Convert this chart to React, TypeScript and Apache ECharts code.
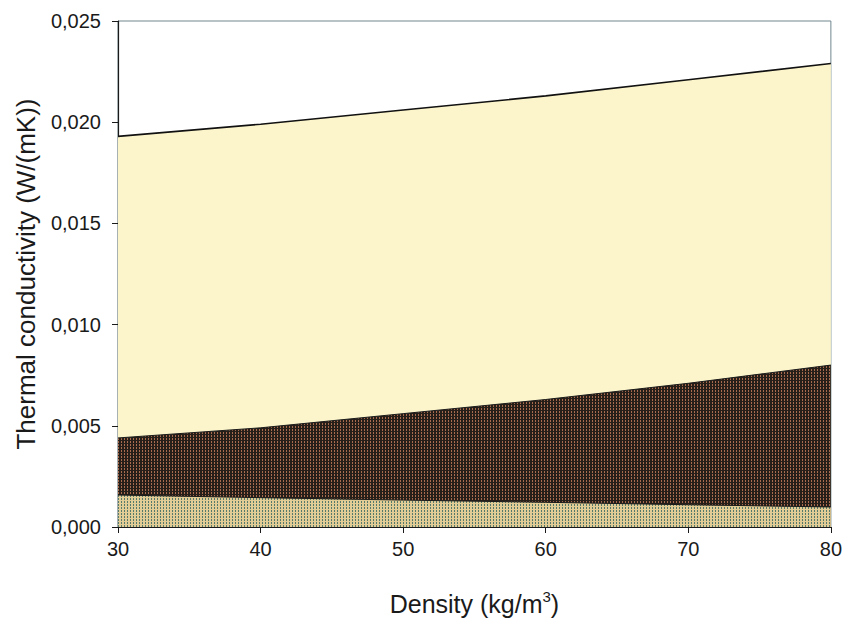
import React, { useEffect, useRef } from "react";
import * as echarts from "echarts";

const densities = [30, 40, 50, 60, 70, 80];
const totalConductivity = [0.0193, 0.0199, 0.0206, 0.0213, 0.0221, 0.0229];
const middleConductivity = [0.0044, 0.0049, 0.0056, 0.0063, 0.0071, 0.008];
const lowerConductivity = [0.00158, 0.00145, 0.00133, 0.00122, 0.0011, 0.00099];
const yTicks = [0, 0.005, 0.01, 0.015, 0.02, 0.025];

function makeTile(bg: string, dot: string, dw: number, dh: number): HTMLCanvasElement {
  const c = document.createElement("canvas");
  c.width = 3;
  c.height = 3;
  const ctx = c.getContext("2d")!;
  ctx.fillStyle = bg;
  ctx.fillRect(0, 0, 3, 3);
  ctx.fillStyle = dot;
  ctx.fillRect(1, 0, dw, dh);
  return c;
}

export default function App() {
  const ref = useRef<HTMLDivElement>(null);
  useEffect(() => {
    if (!ref.current) return;
    const chart = echarts.init(ref.current, null, { renderer: "svg" });
    const darkTile = makeTile("#261e19", "#a86b4d", 1, 2);
    const lightTile = makeTile("#e2cc95", "#557a6c", 1, 2);
    const font = "Liberation Sans, Arial, sans-serif";
    const pair = (arr: number[]) => densities.map((d, i) => [d, arr[i]]);
    chart.setOption({
      animation: false,
      backgroundColor: "#ffffff",
      grid: {
        left: 118,
        right: 13,
        top: 21,
        bottom: 94,
        show: true,
        borderColor: "#71878f",
        borderWidth: 1,
        backgroundColor: "#ffffff",
      },
      xAxis: {
        type: "value",
        min: 30,
        max: 80,
        interval: 10,
        name: "Density (kg/m{sup|3})",
        nameLocation: "middle",
        nameGap: 62,
        nameTextStyle: {
          fontFamily: font,
          fontSize: 25,
          color: "#1a1a1a",
          rich: { sup: { fontSize: 15, verticalAlign: "top", padding: [0, 0, 14, 0], fontFamily: font, color: "#1a1a1a" } },
        },
        axisLine: { show: true, onZero: false, lineStyle: { color: "#1a1a1a", width: 1.2 } },
        axisTick: { show: true, length: 6, lineStyle: { color: "#1a1a1a" } },
        axisLabel: { fontFamily: font, fontSize: 20, color: "#1a1a1a", margin: 12 },
        splitLine: { show: false },
      },
      yAxis: {
        type: "value",
        min: 0,
        max: 0.025,
        interval: 0.005,
        name: "Thermal conductivity (W/(mK))",
        nameLocation: "middle",
        nameGap: 79,
        nameTextStyle: { fontFamily: font, fontSize: 26, color: "#1a1a1a" },
        axisLine: { show: true, lineStyle: { color: "#1a1a1a", width: 1.2 } },
        axisTick: { show: true, length: 6, lineStyle: { color: "#1a1a1a" } },
        axisLabel: {
          fontFamily: font,
          fontSize: 20,
          color: "#1a1a1a",
          margin: 17,
          formatter: (v: number) => {
            const t = yTicks.reduce((a, b) => (Math.abs(b - v) < Math.abs(a - v) ? b : a), yTicks[0]);
            return t.toFixed(3).replace(".", ",");
          },
        },
        splitLine: { show: false },
      },
      series: [
        {
          type: "line",
          data: pair(totalConductivity),
          showSymbol: false,
          z: 1,
          lineStyle: { color: "#111111", width: 1.6 },
          areaStyle: { color: "#fcf5cb", opacity: 1, origin: "start" },
        },
        {
          type: "line",
          data: pair(middleConductivity),
          showSymbol: false,
          z: 2,
          lineStyle: { color: "#1a1a1a", width: 1 },
          areaStyle: { color: { image: darkTile, repeat: "repeat" }, opacity: 1, origin: "start" },
        },
        {
          type: "line",
          data: pair(lowerConductivity),
          showSymbol: false,
          z: 3,
          lineStyle: { color: "#1a1a1a", width: 1 },
          areaStyle: { color: { image: lightTile, repeat: "repeat" }, opacity: 1, origin: "start" },
        },
      ],
    });
    return () => chart.dispose();
  }, []);
  return <div ref={ref} style={{ width: 845, height: 621, position: "absolute", left: 0, top: 0 }} />;
}
